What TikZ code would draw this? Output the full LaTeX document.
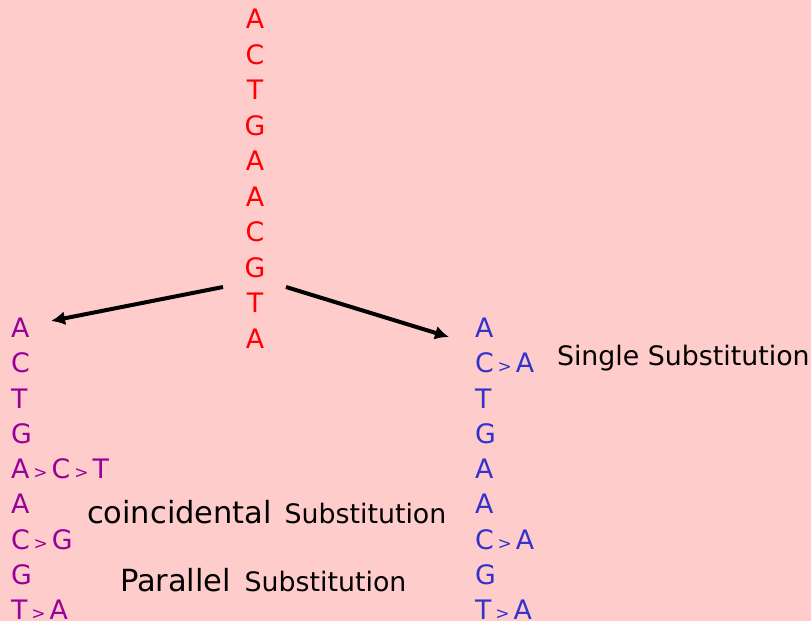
\documentclass[tikz,border=0pt]{standalone}
\usepackage{fontspec}
\setmainfont{DejaVu Sans}
\usetikzlibrary{arrows.meta}
\definecolor{bgpink}{HTML}{FFCCCC}
\definecolor{dnared}{HTML}{FF0000}
\definecolor{dnapurple}{HTML}{990099}
\definecolor{dnablue}{HTML}{3333CC}
\newcommand{\subst}{\hspace{4pt}{\fontsize{17}{17}\selectfont >}\hspace{4pt}}
\begin{document}
\begin{tikzpicture}[x=1pt,y=-1pt,
 dnabase/.style={inner sep=0pt, outer sep=0pt, font=\fontsize{26.8}{27}\selectfont},
 topletter/.style={dnabase, text=dnared, anchor=base},
 leftletter/.style={dnabase, text=dnapurple, anchor=base west},
 rightletter/.style={dnabase, text=dnablue, anchor=base west},
 caption/.style={dnabase, text=black, anchor=base west},
 conn/.style={line width=4pt, -{Latex[length=14pt,width=14pt]}}]
\fill[bgpink] (0,0) rectangle (811,621);
\useasboundingbox (0,0) rectangle (811,621);
% original sequence
\foreach \l [count=\i] in {A,C,T,G,A,A,C,G,T,A}
  \node[topletter] (t\i) at (255,{28.7+35.5*(\i-1)}) {\l};
% left descendant
\foreach \l [count=\i] in {A,C,T,G,A\subst C\subst T,A,C\subst G,G,T\subst A}
  \node[leftletter] (l\i) at (11,{337.7+35.25*(\i-1)}) {\l};
% right descendant
\foreach \l [count=\i] in {A,C\subst A,T,G,A,A,C\subst A,G,T\subst A}
  \node[rightletter] (r\i) at (475,{337.7+35.25*(\i-1)}) {\l};
% captions
\node[caption] (single) at (557,365) {Single Substitution};
\node[caption] (coinc) at (87,523) {{\fontsize{30.5}{31}\selectfont coincidental}\hspace{4pt} Substitution};
\node[caption] (paral) at (120,591) {{\fontsize{30.5}{31}\selectfont Parallel}\hspace{5pt} Substitution};
% arrows
\coordinate (ls) at (223,287);
\coordinate (lt) at (51,321);
\coordinate (rs) at (286,287);
\coordinate (rt) at (449,337);
\draw[conn] (ls) -- (lt);
\draw[conn] (rs) -- (rt);
\end{tikzpicture}
\end{document}
